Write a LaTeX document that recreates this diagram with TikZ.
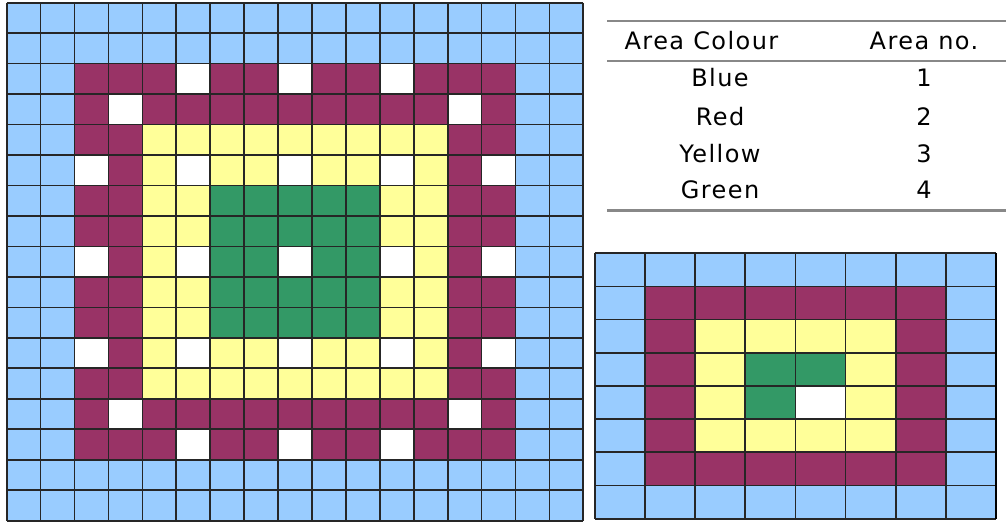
\documentclass[tikz,border=0pt]{standalone}
\usepackage{fontspec}
\setmainfont{DejaVu Sans}[LetterSpace=6]
\usepackage{tikz}
\tikzset{x=1pt,y=-1pt}
\definecolor{areaBlue}{HTML}{99CCFF}
\definecolor{areaRed}{HTML}{993366}
\definecolor{areaYellow}{HTML}{FFFF99}
\definecolor{areaGreen}{HTML}{339966}
\definecolor{ruleGrey}{HTML}{888888}
\tikzset{
  cell line/.style={line width=1.7pt, black!85},
  table rule/.style={line width=2.4pt, ruleGrey},
  table text/.style={anchor=base, inner sep=0pt, font=\fontsize{24}{29}\selectfont}
}

\begin{document}
\begin{tikzpicture}
    \useasboundingbox (0,0) rectangle (1006,522);
    % big pattern, 17 x 17
    \begin{scope}[shift={(6.7pt,-2.7pt)}, x=33.92pt, y=-30.47pt]
      \fill[areaBlue] (0,0) rectangle (17,17);
      \fill[areaRed] (2,2) rectangle (15,15);
      \fill[areaYellow] (4,4) rectangle (13,13);
      \fill[areaGreen] (6,6) rectangle (11,11);
      % white squares
      \foreach \r in {5,8,11}
        \foreach \c in {2,5,8,11,14}
          \fill[white] (\c,\r) rectangle ++(1,1);
      \foreach \r in {2,14}
        \foreach \c in {5,8,11}
          \fill[white] (\c,\r) rectangle ++(1,1);
      \foreach \r in {3,13}
        \foreach \c in {3,13}
          \fill[white] (\c,\r) rectangle ++(1,1);
      \foreach \i in {0,...,17} {
        \draw[cell line] (\i,0) -- (\i,17);
        \draw[cell line] (0,\i) -- (17,\i);
      }
    \end{scope}
    % small pattern, 8 x 8
    \begin{scope}[shift={(594.7pt,-253.3pt)}, x=50.16pt, y=-33.17pt]
      \fill[areaBlue] (0,0) rectangle (8,8);
      \fill[areaRed] (1,1) rectangle (7,7);
      \fill[areaYellow] (2,2) rectangle (6,6);
      \fill[areaGreen] (3,3) rectangle (5,5);
      \fill[white] (4,4) rectangle (5,5);
      \foreach \i in {0,...,8} {
        \draw[cell line] (\i,0) -- (\i,8);
        \draw[cell line] (0,\i) -- (8,\i);
      }
      \draw[line width=2.6pt] (8,0) -- (8,8);
    \end{scope}
    % table
    \draw[table rule] (607,21) -- (1006,21);
    \draw[table rule] (607,61) -- (1006,61);
    \draw[table rule] (607,210.5) -- (1006,210.5);
    \node[table text] (hdcolour) at (701.5,49) {Area Colour};
    \node[table text] (hdno) at (924,49) {Area no.};
    \foreach \name/\num/\y [count=\k] in {Blue/1/86.5, Red/2/125.5, Yellow/3/162, Green/4/198} {
      \node[table text] (colour\k) at (720,\y) {\name};
      \node[table text] (no\k) at (924,\y) {\num};
    }
\end{tikzpicture}
\end{document}
